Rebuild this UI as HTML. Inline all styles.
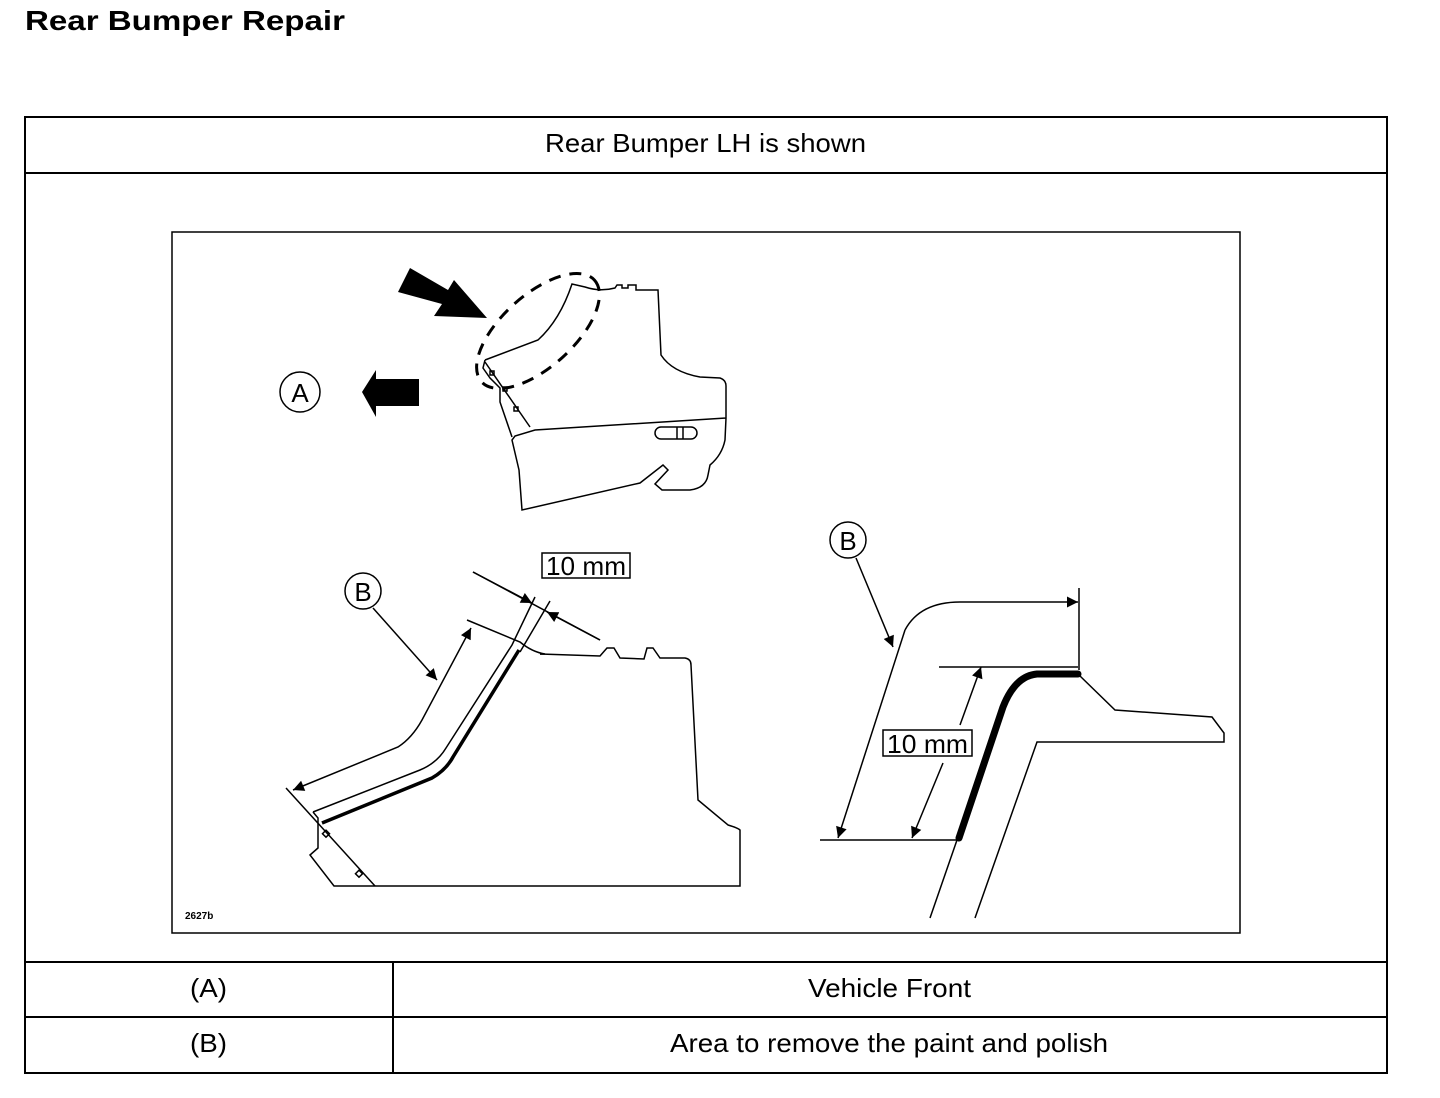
<!DOCTYPE html>
<html><head><meta charset="utf-8"><style>
html,body{margin:0;padding:0;background:#fff;width:1440px;height:1098px;overflow:hidden}
svg{display:block}
text{font-family:"Liberation Sans",Arial,sans-serif;fill:#000}
</style></head><body>
<svg width="1440" height="1098" viewBox="0 0 1440 1098" xmlns="http://www.w3.org/2000/svg">
<defs>
<marker id="ar" viewBox="0 0 10 10" refX="10" refY="5" markerWidth="18" markerHeight="11" markerUnits="userSpaceOnUse" orient="auto-start-reverse">
<path d="M0,0 L10,5 L0,10 z" fill="#000"/></marker>
</defs>
<text x="25" y="30" font-size="28" font-weight="bold" textLength="320" lengthAdjust="spacingAndGlyphs">Rear Bumper Repair</text>
<g fill="none" stroke="#000" stroke-width="2">
<rect x="25" y="117" width="1362" height="956"/>
<line x1="25" y1="173" x2="1387" y2="173"/>
<line x1="25" y1="962" x2="1387" y2="962"/>
<line x1="25" y1="1017" x2="1387" y2="1017"/>
<line x1="393" y1="962" x2="393" y2="1073"/>
<rect x="172" y="232" width="1068" height="701" stroke-width="1.5"/>
</g>
<text x="545" y="152" font-size="26" textLength="321" lengthAdjust="spacingAndGlyphs">Rear Bumper LH is shown</text>
<text x="190" y="997" font-size="26" textLength="37" lengthAdjust="spacingAndGlyphs">(A)</text>
<text x="190" y="1052" font-size="26" textLength="37" lengthAdjust="spacingAndGlyphs">(B)</text>
<text x="808" y="997" font-size="26" textLength="163" lengthAdjust="spacingAndGlyphs">Vehicle Front</text>
<text x="670" y="1052" font-size="26" textLength="438" lengthAdjust="spacingAndGlyphs">Area to remove the paint and polish</text>
<text x="185" y="919" font-size="10" font-weight="bold">2627b</text>

<!-- top figure -->
<polygon points="398,292 410,268 448,290 454,280 487,318 434,316 442,304" fill="#000"/>
<ellipse cx="538" cy="331" rx="76" ry="36" transform="rotate(-42 538 331)" fill="none" stroke="#000" stroke-width="3" stroke-dasharray="12,9"/>
<polygon points="362,392 376,370 376,379 419,379 419,406 376,406 376,417" fill="#000"/>
<circle cx="300" cy="392" r="20" fill="none" stroke="#000" stroke-width="1.5"/>
<text x="300" y="402" font-size="26" text-anchor="middle">A</text>
<g fill="none" stroke="#000" stroke-width="1.5">
<path d="M485,360 L538,340 Q560,320 572,284 L585,287 Q600,292 615,288 L617,285 L622,285 L622,288 L628,288 L628,285 L636,285 L636,290 L658,290 L661,355 Q672,372 700,377 L720,378 Q726,380 726,386 L726,418 L725,440 Q722,455 710,465 L708,475 Q706,488 690,490 L662,490 L655,484 L668,470 L663,465 L640,483 L522,510 L519,470 L512,440 L515,436 L535,430 L726,418"/>
<path d="M485,360 L483,368 L490,378 L500,388 L500,402 L512,437"/>
<path d="M485,362 L530,427"/>
<rect x="655" y="427" width="42" height="12" rx="6"/>
<line x1="677" y1="427" x2="677" y2="439"/><line x1="683" y1="427" x2="683" y2="439"/>
<rect x="490" y="371" width="4" height="4"/><rect x="503" y="387" width="4" height="4"/><rect x="514" y="407" width="4" height="4"/>
</g>

<!-- bottom-left figure -->
<circle cx="363" cy="591" r="18" fill="none" stroke="#000" stroke-width="1.5"/>
<text x="363" y="601" font-size="26" text-anchor="middle">B</text>
<rect x="542" y="553" width="88" height="25" fill="#fff" stroke="#000" stroke-width="1.5"/>
<text x="546" y="575" font-size="26" textLength="80" lengthAdjust="spacingAndGlyphs">10 mm</text>
<g fill="none" stroke="#000" stroke-width="1.5">
<line x1="373" y1="608" x2="437" y2="680" marker-end="url(#ar)"/>
<path d="M540,654 L600,656 L607,648 L614,648 L620,658 L644,659 L647,648 L653,648 L660,658 L685,658 Q691,659 691,665 L698,800 L728,825 Q738,828 740,830 L740,886 L334,886 L310,855 L318,848 L318,818 L313,812"/>
<path d="M467,620 L520,642 Q532,652 545,654 L540,654"/>
<path d="M286,788 L375,886"/>
<path d="M313,812 L420,770 Q437,763 446,748 L512,645 L535,597"/>
<path d="M550,601 L520,652"/>
<path d="M473,572 L600,640"/>
<path d="M293,790 L398,747 Q412,738 422,720 L471,628" marker-start="url(#ar)" marker-end="url(#ar)"/>
<line x1="473" y1="572" x2="532" y2="603" marker-end="url(#ar)"/>
<line x1="600" y1="640" x2="547" y2="612" marker-end="url(#ar)"/>
<rect x="324" y="831" width="5" height="5" transform="rotate(45 326 833)"/>
<rect x="357" y="871" width="5" height="5" transform="rotate(45 359 873)"/>
</g>
<path d="M322,823 L432,778 Q446,770 453,757 L519,650" fill="none" stroke="#000" stroke-width="3.5"/>

<!-- right figure -->
<circle cx="848" cy="540" r="18" fill="none" stroke="#000" stroke-width="1.5"/>
<text x="848" y="550" font-size="26" text-anchor="middle">B</text>
<g fill="none" stroke="#000" stroke-width="1.5">
<line x1="856" y1="558" x2="893" y2="647" marker-end="url(#ar)"/>
<path d="M905,630 Q920,602 960,602 L1078,602" marker-end="url(#ar)"/>
<line x1="905" y1="630" x2="838" y2="838" marker-end="url(#ar)"/>
<line x1="1079" y1="588" x2="1079" y2="670"/>
<line x1="939" y1="667" x2="1078" y2="667"/>
<line x1="820" y1="840" x2="960" y2="840"/>
<path d="M1080,676 L1115,710 L1212,717 L1224,733 L1224,742 L1037,742 L975,918"/>
<line x1="957" y1="840" x2="930" y2="918"/>
<line x1="960" y1="725" x2="981" y2="667" marker-end="url(#ar)"/>
<line x1="943" y1="763" x2="912" y2="838" marker-end="url(#ar)"/>
</g>
<path d="M959,838 L1003,707 Q1015,676 1037,674 L1078,674" fill="none" stroke="#000" stroke-width="7" stroke-linecap="round"/>
<rect x="883" y="730" width="89" height="26" fill="#fff" stroke="#000" stroke-width="1.5"/>
<text x="887" y="753" font-size="26" textLength="81" lengthAdjust="spacingAndGlyphs">10 mm</text>
</svg>
</body></html>
